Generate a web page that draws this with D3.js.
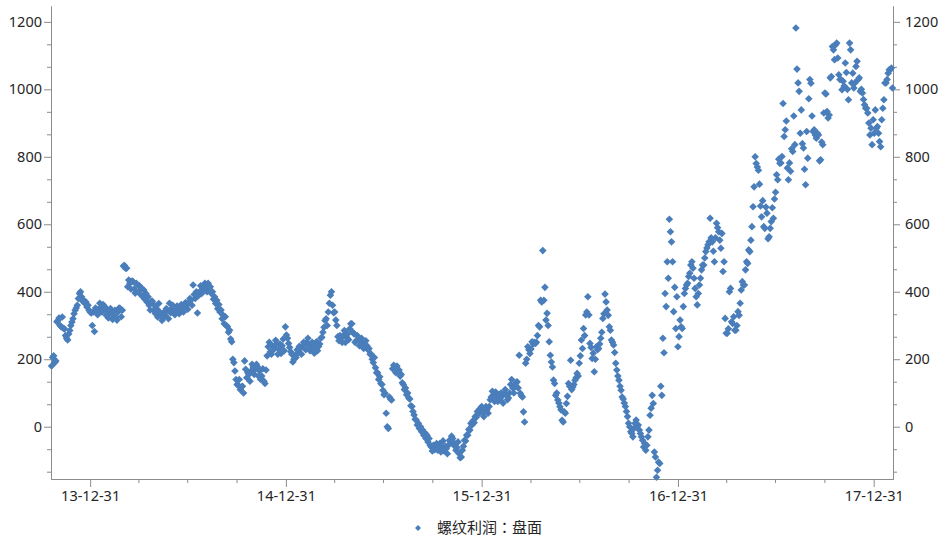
<!DOCTYPE html>
<html>
<head>
<meta charset="utf-8">
<script src="https://cdn.jsdelivr.net/npm/d3@7"></script>
<style>
  body { margin: 0; background: #fff; }
  svg { display: block; }
  text { font-family: "Noto Sans", "Noto Sans CJK SC", sans-serif; fill: #262626; }
</style>
</head>
<body>
<div id="chart"></div>
<script>
// one reading every 2 calendar days, starting here
const startDate = "2013-10-20"
const stepDays = 2

const v2013 = [180,205,210,190,195,311,315,322,300,296,325,292,290,270,262,257,275,285,300,310,
  320,335,345,352,360,380,395,400,385,372,375,366,370,355,360,345,340,337]
const v2014 = [300,340,282,352,342,332,348,366,352,340,362,345,355,330,345,322,338,350,335,318,
  330,345,325,316,340,352,350,326,345,476,478,470,470,415,435,425,408,432,430,408,
  396,425,420,400,418,392,410,385,405,378,395,370,385,360,346,372,372,345,360,335,
  350,325,365,340,335,315,322,340,330,350,345,320,366,338,350,360,345,332,341,358,
  348,335,350,362,351,340,355,368,360,348,368,380,375,360,420,392,380,400,337,388,
  400,418,395,410,410,425,420,400,425,412,415,395,400,378,385,365,375,350,362,340,
  346,320,330,305,326,300,296,280,286,260,252,200,190,165,140,125,123,140,110,118,
  120,100,195,170,145,160,155,135,165,185,177,155,170,185,178,150,165,140,150,172,
  135,128,168,210,237,250,222,215,240,228,235,256,247,215,230,245,217,240,260,225,
  296,272]
const v2015 = [262,247,235,222,215,192,200,212,205,228,220,238,232,215,240,250,245,228,250,262,
  240,225,237,250,230,218,240,252,225,238,245,262,265,280,295,315,320,300,340,366,
  390,400,360,338,340,316,300,267,255,270,262,250,270,285,250,265,275,258,290,305,
  305,280,275,250,255,270,258,240,250,262,248,232,245,255,240,228,232,215,215,200,
  190,205,175,160,160,140,148,128,125,108,95,99,40,0,-5,88,82,79,172,182,
  175,160,180,165,168,150,155,130,125,110,115,95,100,85,82,62,60,45,35,22,
  20,5,10,-5,0,-15,-10,-25,-18,-35,-25,-45,-35,-55,-60,-72,-55,-68,-65,-50,
  -70,-62,-50,-75,-60,-42,-72,-58,-65,-80,-55,-40,-45,-28,-35,-55,-50,-70,-62,-45,
  -80,-92,-90,-70,-58,-40,-42,-25,-25,-8,-10,10,5,18,12,30,28,45,38,52,
  44,60]
const v2016 = [47,30,45,60,50,40,60,80,88,105,95,75,103,85,75,95,80,100,90,70,
  100,110,95,80,85,100,125,140,115,100,118,130,133,115,212,99,92,88,44,14,
  188,200,237,228,217,230,252,245,250,247,250,270,300,296,375,370,522,375,413,316,
  336,300,252,212,192,177,138,128,93,100,79,70,59,50,19,14,44,40,69,90,
  128,120,197,110,118,125,138,145,158,150,188,210,257,232,291,270,331,340,385,331,
  247,235,202,218,163,200,237,228,232,245,262,280,321,335,393,370,346,330,296,286,
  257,250,242,220,188,168,150,138,120,108,88,82,70,60,45,30,10,0,-15,-20,
  -30,-5,10,20,0,5,-10,-20,-30,-40,-60,-50,-70,-55,-30,-10,34,55,93,69,
  -75,-90,-150,-129,-105,-109,120,93,262,219,395,356,489,440,615,578,548,489,341,413,
  291,385,237,267]
const v2017 = [316,296,291,356,395,410,420,425,445,455,479,489,470,440,410,385,361,395,420,440,
  465,479,479,500,519,530,539,548,618,560,548,520,489,560,603,590,578,553,529,573,
  460,489,321,277,277,290,400,410,311,306,326,286,286,300,341,330,366,405,430,420,
  420,465,489,484,524,519,553,593,652,711,800,780,770,760,719,654,622,670,593,588,
  651,633,557,563,588,608,649,618,675,695,747,732,793,781,782,801,958,860,880,906,
  767,732,782,757,824,816,921,836,1182,1060,1019,994,870,939,839,826,763,717,875,796,
  972,1029,1018,921,875,880,865,855,870,865,788,791,844,836,930,989,986,934,915,924,
  1034,1038,1127,1117,1088,1132,1137,1093,1043,1029,1029,999,1024,1010,1078,1050,1000,969,1137,1117,
  1019,1048,1004,1019,1068,1083,1029,1034,994,1000,989,970,954,944,944,930,900,865,885,836,
  910,870]
const v2018 = [939,885,890,870,845,830,910,944,969,1019,1019,1029,1048,1058,1058,1063,1004]

const yMajor = [0, 200, 400, 600, 800, 1000, 1200]
const xMajor = ["2013-12-31", "2014-12-31", "2015-12-31", "2016-12-31", "2017-12-31"]
const xMinorMonths = ["03-31", "06-30", "09-30"]
const seriesName = "螺纹利润：盘面"

const width = 940, height = 542
const plotLeft = 51, plotRight = 893, plotTop = 6, plotBottom = 479
const dotColor = "#4a7ebb", axisColor = "#8c8c8c"

const parse = d3.timeParse("%Y-%m-%d")
const start = parse(startDate)
const values = [].concat(v2013, v2014, v2015, v2016, v2017, v2018)
const data = values.map((v, i) => ({date: d3.timeDay.offset(start, i * stepDays), value: v}))

const x = d3.scaleTime()
  .domain([parse("2013-10-19"), parse("2018-02-05")])
  .range([plotLeft, plotRight])
const y = d3.scaleLinear().domain([-155, 1247]).range([plotBottom, plotTop])

const svg = d3.select("#chart").append("svg")
  .attr("width", width)
  .attr("height", height)

// minor ticks: thirds of the 200 step on y, quarter ends on x
const yMinor = d3.range(-2, 19).filter(k => k % 3 !== 0).map(k => k * 200 / 3)
const xMinor = []
for (let yr = 2014; yr <= 2017; yr++) xMinorMonths.forEach(m => xMinor.push(parse(yr + "-" + m)))

function styleAxis(g) {
  g.selectAll("path, line").attr("stroke", axisColor)
  g.selectAll("text").style("font-size", "14.5px").attr("fill", "#262626")
}

svg.append("g")
  .attr("transform", `translate(${plotLeft},0)`)
  .call(d3.axisLeft(y).tickValues(yMinor).tickSize(4).tickSizeOuter(0).tickFormat(""))
  .call(styleAxis)
svg.append("g")
  .attr("transform", `translate(${plotLeft},0)`)
  .call(d3.axisLeft(y).tickValues(yMajor).tickSize(7).tickPadding(2).tickSizeOuter(0)
    .tickFormat(d3.format("d")))
  .call(styleAxis)

svg.append("g")
  .attr("transform", `translate(${plotRight},0)`)
  .call(d3.axisRight(y).tickValues(yMinor).tickSize(4).tickSizeOuter(0).tickFormat(""))
  .call(styleAxis)
svg.append("g")
  .attr("transform", `translate(${plotRight},0)`)
  .call(d3.axisRight(y).tickValues(yMajor).tickSize(7).tickPadding(5).tickSizeOuter(0)
    .tickFormat(d3.format("d")))
  .call(styleAxis)

svg.append("g")
  .attr("transform", `translate(0,${plotBottom})`)
  .call(d3.axisBottom(x).tickValues(xMinor).tickSize(4).tickSizeOuter(0).tickFormat(""))
  .call(styleAxis)
svg.append("g")
  .attr("transform", `translate(0,${plotBottom})`)
  .call(d3.axisBottom(x).tickValues(xMajor.map(parse)).tickSize(8).tickPadding(4)
    .tickSizeOuter(0).tickFormat(d3.timeFormat("%y-%m-%d")))
  .call(styleAxis)

const r = 3.8
const diamond = `M0,${-r}L${r},0L0,${r}L${-r},0Z`

svg.append("g")
  .selectAll("path")
  .data(data)
  .join("path")
  .attr("d", diamond)
  .attr("transform", d => `translate(${x(d.date)},${y(d.value)})`)
  .attr("fill", dotColor)

const legend = svg.append("g").attr("transform", "translate(418,528)")
legend.append("path").attr("d", `M0,-3L3,0L0,3L-3,0Z`).attr("fill", dotColor)
legend.append("text")
  .attr("x", 19)
  .attr("dy", "0.35em")
  .style("font-family", '"Noto Sans CJK TC", "Noto Sans CJK SC", sans-serif')
  .style("font-size", "15px")
  .text(seriesName)
</script>
</body>
</html>
